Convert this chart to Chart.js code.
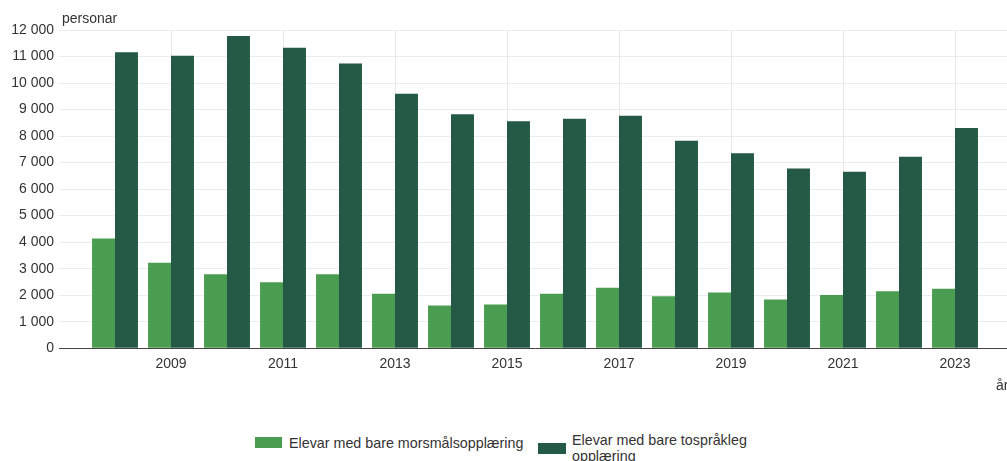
<!DOCTYPE html>
<html>
<head>
<meta charset="utf-8">
<script src="https://cdn.jsdelivr.net/npm/chart.js@4"></script>
<style>
  body { margin: 0; width: 1007px; height: 461px; overflow: hidden; background: #fff; font-family: "Liberation Sans", Arial, sans-serif; position: relative; }
  #wrap { position: absolute; left: 0; top: 0; width: 1019px; height: 381px; }
  .lbl { position: absolute; color: #333; font-size: 14px; white-space: nowrap; }
  #legend { position: absolute; top: 433px; left: 0; width: 1007px; font-size: 14.3px; color: #333; }
  .box { position: absolute; height: 11px; }
  .txt { position: absolute; line-height: 16px; white-space: nowrap; }
</style>
</head>
<body>
<div id="wrap"><canvas id="chart"></canvas></div>
<div class="lbl" style="left:62px; top:10px;">personar</div>
<div class="lbl" style="left:996px; top:377px;">år</div>
<div id="legend">
  <div class="box" style="left:255px; top:4px; width:27px; background:#4a9d50;"></div>
  <div class="txt" style="left:289px; top:2px;">Elevar med bare morsmålsopplæring</div>
  <div class="box" style="left:538px; top:10px; width:28px; background:#245946;"></div>
  <div class="txt" style="left:572px; top:-1px;">Elevar med bare tospråkleg<br>opplæring</div>
</div>
<script>
// Elevar i grunnskulen, morsmål / tospråkleg opplæring
const years = ['2008', '2009', '2010', '2011', '2012', '2013', '2014', '2015',
               '2016', '2017', '2018', '2019', '2020', '2021', '2022', '2023'];
const morsmaal = [4140, 3220, 2790, 2490, 2790, 2050, 1610, 1650,
                  2050, 2280, 1960, 2100, 1840, 2010, 2150, 2240];
const tospraakleg = [11160, 11030, 11770, 11330, 10740, 9600, 8820, 8560,
                     8650, 8770, 7820, 7350, 6780, 6650, 7220, 8300];
const yTicks = [0, 1000, 2000, 3000, 4000, 5000, 6000, 7000, 8000, 9000, 10000, 11000, 12000];

// one empty slot on each side so the axis runs half a year past the bars
const labels = [''].concat(years, ['']);
const pad = arr => [null].concat(arr, [null]);

const fmt = v => String(v).replace(/\B(?=(\d{3})+(?!\d))/g, ' ');
const isShown = i => labels[i] !== '' && Number(labels[i]) % 2 === 1;

const ctx = document.getElementById('chart').getContext('2d');
new Chart(ctx, {
    type: 'bar',
    data: {
        labels: labels,
        datasets: [
            { label: 'Elevar med bare morsmålsopplæring', data: pad(morsmaal), backgroundColor: '#4a9d50' },
            { label: 'Elevar med bare tospråkleg opplæring', data: pad(tospraakleg), backgroundColor: '#245946' }
        ]
    },
    options: {
        responsive: true,
        maintainAspectRatio: false,
        animation: false,
        layout: { padding: { top: 30, left: 0, right: 0, bottom: 0 } },
        datasets: { bar: { categoryPercentage: 0.82, barPercentage: 1.0 } },
        plugins: { legend: { display: false }, tooltip: { enabled: false } },
        scales: {
            x: {
                offset: false,
                grid: {
                    offset: false,
                    drawTicks: false,
                    color: c => isShown(c.index) ? '#e8e8e8' : 'rgba(0,0,0,0)'
                },
                border: { color: '#444', width: 1 },
                ticks: {
                    autoSkip: false,
                    maxRotation: 0,
                    padding: 8,
                    color: '#333',
                    font: { family: 'Liberation Sans', size: 14 },
                    callback: (v, i) => isShown(i) ? labels[i] : ''
                }
            },
            y: {
                min: 0,
                max: 12000,
                afterFit: s => { s.width = 59; },
                afterBuildTicks: s => { s.ticks = yTicks.map(v => ({ value: v })); },
                grid: { drawTicks: false, color: '#ececec' },
                border: { display: false },
                ticks: {
                    padding: 5,
                    color: '#333',
                    font: { family: 'Liberation Sans', size: 14 },
                    callback: v => fmt(v)
                }
            }
        }
    }
});
</script>
</body>
</html>
